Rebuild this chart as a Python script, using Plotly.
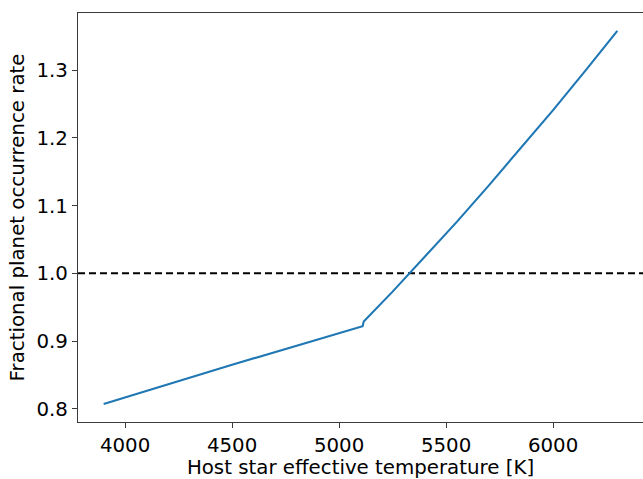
import plotly.graph_objects as go

# Host star effective temperature [K] and fractional occurrence rate
teff_cool = [3900, 4500, 5110]
rate_cool = [0.807, 0.865, 0.922]

teff_hot = [5115, 5250, 5400, 5550, 5700, 5850, 6000, 6150, 6300]
rate_hot = [0.929, 0.973, 1.024, 1.076, 1.130, 1.185, 1.241, 1.299, 1.358]

x_range = [3780, 6420]
y_range = [0.7805, 1.3845]
x_ticks = [4000, 4500, 5000, 5500, 6000]
y_ticks = [0.8, 0.9, 1.0, 1.1, 1.2, 1.3]
reference_level = 1.0

teff = teff_cool + teff_hot
rate = rate_cool + rate_hot

FONT = "DejaVu Sans"
FS = 19.8
SPINE = "#3a3a3a"

fig = go.Figure()

# unity reference line across the full axis width
fig.add_trace(go.Scatter(
    x=x_range, y=[reference_level, reference_level], mode="lines",
    line=dict(color="black", width=2, dash="7px,4px"),
    hoverinfo="skip", showlegend=False,
))

fig.add_trace(go.Scatter(
    x=teff, y=rate, mode="lines",
    line=dict(color="#1f77b4", width=2.1),
    showlegend=False,
))

fig.update_layout(
    width=643, height=479,
    margin=dict(l=78, r=0, t=13, b=57),
    plot_bgcolor="white", paper_bgcolor="white",
    font=dict(family=FONT, size=FS, color="black"),
    xaxis=dict(
        range=x_range, tickvals=x_ticks, ticktext=[str(v) for v in x_ticks],
        showgrid=False, zeroline=False, automargin=False,
        showline=True, linecolor=SPINE, linewidth=1.2, mirror=True,
        ticks="outside", ticklen=5, tickwidth=1.1, tickcolor=SPINE,
        tickfont=dict(family=FONT, size=FS),
        title=dict(text="Host star effective temperature [K]",
                   font=dict(family=FONT, size=FS), standoff=8),
    ),
    yaxis=dict(
        range=y_range, tickvals=y_ticks, ticktext=[f"{v:.1f}" for v in y_ticks],
        showgrid=False, zeroline=False, automargin=False,
        showline=True, linecolor=SPINE, linewidth=1.2, mirror=False,
        ticks="outside", ticklen=5, tickwidth=1.1, tickcolor=SPINE,
        tickfont=dict(family=FONT, size=FS),
        title=dict(text="Fractional planet occurrence rate",
                   font=dict(family=FONT, size=FS), standoff=6),
    ),
)

fig.write_html("out.html")
